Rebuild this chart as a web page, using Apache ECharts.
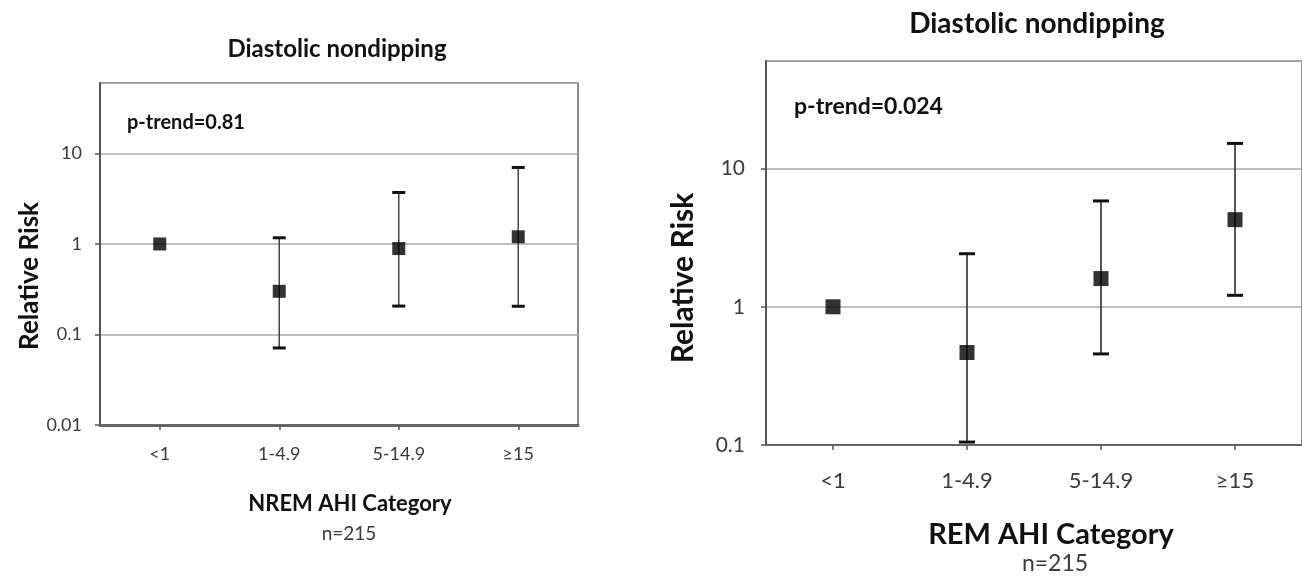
<!DOCTYPE html>
<html>
<head>
<meta charset="utf-8">
<script src="https://cdn.jsdelivr.net/npm/echarts@6/dist/echarts.min.js"></script>
<style>
  html, body { margin: 0; padding: 0; background: #fff; }
  #chart { width: 1302px; height: 578px; }
</style>
</head>
<body>
<div id="chart"></div>
<script>
var categories = ['<1', '1-4.9', '5-14.9', '\u226515'];

// NREM AHI (left panel)
var nremRR = [1, 0.30, 0.89, 1.2];
var nremLow = [null, 0.071, 0.206, 0.205];
var nremHigh = [null, 1.17, 3.7, 7.0];

// REM AHI (right panel)
var remRR = [1, 0.467, 1.6, 4.27];
var remLow = [null, 0.105, 0.456, 1.21];
var remHigh = [null, 2.42, 5.83, 15.2];

var font = 'Lato, "Open Sans", sans-serif';
var textGray = '#3a3a3a';

function errData(low, high) {
	var out = [];
	low.forEach(function(l, i) {
		if (l == null) return;
		out.push([i, l, high[i]]);
	});
	return out;
}

function errRenderer(capW, lineW) {
	return function(params, api) {
		var x = api.value(0);
		var lo = api.coord([x, api.value(1)]);
		var hi = api.coord([x, api.value(2)]);
		return {
			type: 'group',
			children: [
				{ type: 'line', shape: { x1: lo[0], y1: lo[1], x2: hi[0], y2: hi[1] },
					style: { stroke: '#444', lineWidth: lineW } },
				{ type: 'line', shape: { x1: hi[0] - capW / 2, y1: hi[1], x2: hi[0] + capW / 2, y2: hi[1] },
					style: { stroke: '#111', lineWidth: 3 } },
				{ type: 'line', shape: { x1: lo[0] - capW / 2, y1: lo[1], x2: lo[0] + capW / 2, y2: lo[1] },
					style: { stroke: '#111', lineWidth: 3 } }
			]
		};
	};
}

function logFmt(v) {
	return String(Number(v.toPrecision(3)));
}

function makeY(gridIndex, min, fontSize, margin) {
	return {
		type: 'log',
		logBase: 10,
		gridIndex: gridIndex,
		min: min,
		max: 60,
		axisLine: { show: true, lineStyle: { color: '#555', width: 2 } },
		axisTick: { show: true, length: 5, lineStyle: { color: '#555', width: 1.5 } },
		axisLabel: {
			color: textGray, fontFamily: font, fontSize: fontSize, margin: margin,
			showMaxLabel: false, formatter: logFmt
		},
		splitLine: { show: true, lineStyle: { color: '#aaa', width: 1.5 } },
		minorTick: { show: false }
	};
}

function makeX(gridIndex, fontSize, margin, lineW) {
	return {
		type: 'category',
		gridIndex: gridIndex,
		data: categories,
		boundaryGap: true,
		axisLine: { show: true, lineStyle: { color: '#666', width: lineW } },
		axisTick: { show: true, alignWithLabel: true, length: 5, lineStyle: { color: '#555', width: 1.5 } },
		axisLabel: { color: textGray, fontFamily: font, fontSize: fontSize, margin: margin },
		splitLine: { show: false }
	};
}

var chart = echarts.init(document.getElementById('chart'));

chart.setOption({
	animation: false,
	grid: [
		{ left: 100, top: 83, width: 478, height: 342, show: true, borderColor: '#666', borderWidth: 1.5, containLabel: false },
		{ left: 766, top: 61, width: 550, height: 384, show: true, borderColor: '#666', borderWidth: 1.5, containLabel: false }
	],
	xAxis: [
		makeX(0, 18, 20, 3),
		makeX(1, 22, 25, 2)
	],
	yAxis: [
		makeY(0, 0.01, 18, 18),
		makeY(1, 0.1, 21, 21)
	],
	series: [
		{
			type: 'custom', xAxisIndex: 0, yAxisIndex: 0,
			renderItem: errRenderer(13, 1.5),
			data: errData(nremLow, nremHigh), z: 2
		},
		{
			type: 'scatter', xAxisIndex: 0, yAxisIndex: 0,
			symbol: 'rect', symbolSize: 13,
			itemStyle: { color: '#000' },
			data: nremRR, z: 3
		},
		{
			type: 'custom', xAxisIndex: 1, yAxisIndex: 1,
			renderItem: errRenderer(16, 1.8),
			data: errData(remLow, remHigh), z: 2
		},
		{
			type: 'scatter', xAxisIndex: 1, yAxisIndex: 1,
			symbol: 'rect', symbolSize: 15,
			itemStyle: { color: '#000' },
			data: remRR, z: 3
		}
	],
	graphic: [
		// left panel texts
		{ type: 'text', x: 337, y: 49, style: { text: 'Diastolic nondipping', font: 'bold 24px ' + font, fill: '#111', align: 'center', verticalAlign: 'middle' } },
		{ type: 'text', x: 127, y: 123, style: { text: 'p-trend=0.81', font: 'bold 20px ' + font, fill: '#111', align: 'left', verticalAlign: 'middle' } },
		{ type: 'text', x: 30, y: 276, rotation: Math.PI / 2, style: { text: 'Relative Risk', font: 'bold 26px ' + font, fill: '#111', align: 'center', verticalAlign: 'middle' } },
		{ type: 'text', x: 350, y: 504, style: { text: 'NREM AHI Category', font: 'bold 22px ' + font, fill: '#111', align: 'center', verticalAlign: 'middle' } },
		{ type: 'text', x: 349, y: 534, style: { text: 'n=215', font: '19px ' + font, fill: textGray, align: 'center', verticalAlign: 'middle' } },
		// right panel texts
		{ type: 'text', x: 1037, y: 24, style: { text: 'Diastolic nondipping', font: 'bold 28px ' + font, fill: '#111', align: 'center', verticalAlign: 'middle' } },
		{ type: 'text', x: 794, y: 107, style: { text: 'p-trend=0.024', font: 'bold 23px ' + font, fill: '#111', align: 'left', verticalAlign: 'middle' } },
		{ type: 'text', x: 683, y: 278, rotation: Math.PI / 2, style: { text: 'Relative Risk', font: 'bold 30px ' + font, fill: '#111', align: 'center', verticalAlign: 'middle' } },
		{ type: 'text', x: 1051, y: 535, style: { text: 'REM AHI Category', font: 'bold 29px ' + font, fill: '#111', align: 'center', verticalAlign: 'middle' } },
		{ type: 'text', x: 1055, y: 564, style: { text: 'n=215', font: '23px ' + font, fill: textGray, align: 'center', verticalAlign: 'middle' } }
	]
});
</script>
</body>
</html>
